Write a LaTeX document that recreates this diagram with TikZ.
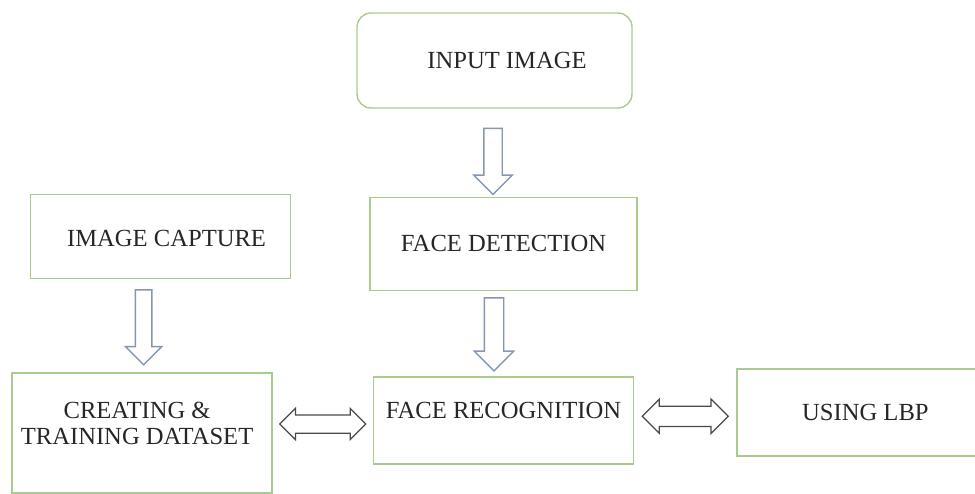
\documentclass[tikz,border=0pt]{standalone}
\usepackage{fontspec}
\setmainfont{Liberation Serif}
\usetikzlibrary{positioning, calc, shapes.arrows}
\definecolor{boxGreen}{HTML}{A9CB8E}
\definecolor{arrowBlue}{HTML}{8597B3}
\definecolor{arrowGray}{HTML}{4A4A4A}
\definecolor{textDark}{HTML}{262626}

\begin{document}
\begin{tikzpicture}[
  every node/.style={text=textDark, font=\fontsize{14}{14.5}\selectfont},
  box/.style={draw=boxGreen, line width=0.8pt, minimum width=5.2cm,
              minimum height=1.74cm, align=center},
  roundbox/.style={box, rounded corners=8pt},
  downarr/.style={single arrow, draw=arrowBlue, line width=0.8pt, fill=white,
                  shape border rotate=270, inner sep=0.17cm, anchor=tail,
                  minimum width=0.74cm, single arrow head extend=0.2cm},
  botharr/.style={double arrow, draw=arrowGray, line width=0.7pt, fill=white,
                  inner sep=0.17cm, minimum height=1.72cm, minimum width=0.62cm,
                  double arrow head extend=0.14cm}]

  \useasboundingbox (0,0) rectangle (19.5,-9.88);

  %% ═══════════════════════════════════════════════════════════════
  %% TOP: INPUT IMAGE + FACE DETECTION
  %% ═══════════════════════════════════════════════════════════════

  \node[roundbox, minimum width=5.5cm, minimum height=1.9cm,
        label={[xshift=0.25cm]center:INPUT IMAGE}] (input) at (9.89,-1.21) {};

  \node[box, minimum width=5.34cm, minimum height=1.86cm,
        below=1.76cm of input, xshift=0.18cm,
        label={center:FACE DETECTION}] (detect) {};

  \node[box, minimum height=1.68cm, left=1.56cm of detect, yshift=0.15cm,
        label={[xshift=0.12cm, yshift=-0.04cm]center:IMAGE CAPTURE}] (capture) {};

  \node[downarr, minimum height=1.32cm] (arrA)
      at ([xshift=-0.03cm, yshift=-0.38cm]input.south) {};

  %% ═══════════════════════════════════════════════════════════════
  %% BOTTOM ROW: DATASET <-> RECOGNITION <-> LBP
  %% ═══════════════════════════════════════════════════════════════

  \node[box, below=1.7cm of detect,
        label={[yshift=0.19cm]center:FACE RECOGNITION}] (recog) {};

  \node[box, minimum height=2.4cm, left=2.0cm of recog, yshift=-0.25cm,
        label={[align=center, xshift=-0.1cm, yshift=0.19cm]center:CREATING \&\\TRAINING DATASET}] (dataset) {};

  \node[box, minimum width=4.78cm, right=2.04cm of recog, yshift=0.16cm,
        label={[xshift=0.18cm]center:USING LBP}] (lbp) {};

  \node[downarr, minimum height=1.5cm, minimum width=0.7cm, inner sep=0.15cm] (arrB)
      at ([xshift=-0.34cm, yshift=-0.2cm]capture.south) {};
  \node[downarr, minimum height=1.46cm, minimum width=0.76cm, inner sep=0.18cm] (arrC)
      at ([xshift=-0.19cm, yshift=-0.12cm]detect.south) {};

  \node[botharr, minimum width=0.6cm, double arrow head extend=0.13cm] (arrD)
      at ([yshift=0.05cm]$(dataset.east)!0.5!(recog.west)$) {};
  \node[botharr, minimum width=0.64cm, inner sep=0.19cm] (arrE)
      at ($(recog.east)!0.5!(lbp.west)$) {};

\end{tikzpicture}
\end{document}
